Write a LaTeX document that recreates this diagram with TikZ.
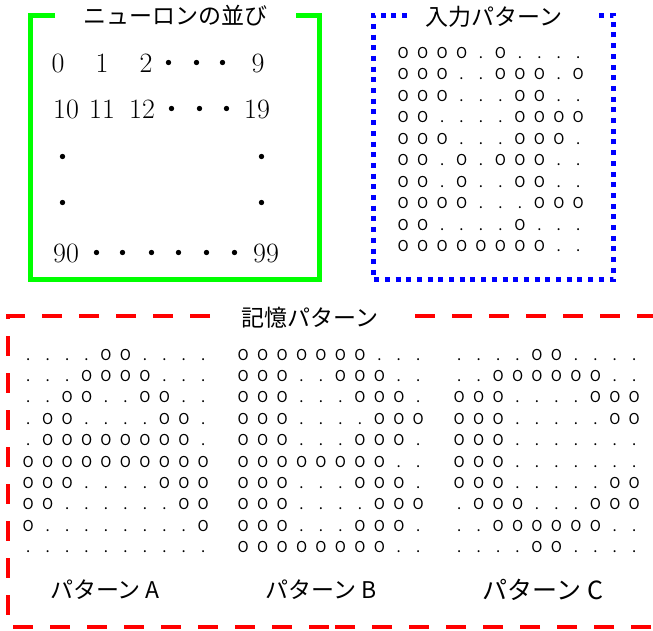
\documentclass[tikz,border=0pt]{standalone}
\usepackage{fontspec}
\newfontfamily\jp{Noto Sans CJK JP}
\newlength{\cw}
\setlength{\cw}{19.45pt}
\def\prow#1{\prowi#1\relax}
\def\prowi#1{\ifx#1\relax\else\makebox[\cw]{\ifx#1x.\else#1\fi}\expandafter\prowi\fi}
\tikzset{
  titletext/.style={inner sep=0pt, font=\jp\fontsize{23}{23}\selectfont},
  labeltext/.style={inner sep=0pt, font=\jp\fontsize{23}{23}\selectfont},
  num/.style={inner sep=0pt, anchor=base, font=\fontsize{28}{28}\selectfont},
  mdot/.style={inner sep=0pt, anchor=base, font=\jp\fontsize{25}{25}\selectfont},
  prowbox/.style={inner sep=0pt, anchor=base west, font=\jp\fontsize{15}{15}\selectfont},
  greenbox/.style={draw=green, line width=5pt},
  bluebox/.style={draw=blue, line width=5pt, dash pattern=on 5pt off 5.7pt},
  redbox/.style={draw=red, line width=4.5pt, dash pattern=on 20pt off 17pt},
}
\begin{document}
\begin{tikzpicture}[x=1pt,y=-1pt]
\useasboundingbox (0,0) rectangle (653,630);
% green box
\draw[greenbox] (55,15) -- (30.5,15) -- (30.5,279) -- (319.5,279) -- (319.5,15) -- (296,15);
\node[titletext] (gtitle) at (175.5,16) {ニューロンの並び};
\node[num] (n0) at (58,72) {0};
\node[num] (n1) at (102,72) {1};
\node[num] (n2) at (146,72) {2};
\node[mdot] (d1) at (169,72) {・};
\node[mdot] (d2) at (197,72) {・};
\node[mdot] (d3) at (223,72) {・};
\node[num] (n9) at (258,72) {9};
\node[num] (n10) at (66,118) {10};
\node[num] (n11) at (102,118) {11};
\node[num] (n12) at (142,118) {12};
\node[mdot] (d4) at (172,118) {・};
\node[mdot] (d5) at (200,118) {・};
\node[mdot] (d6) at (227,118) {・};
\node[num] (n19) at (257,118) {19};
\node[mdot] (d7) at (63,166) {・};
\node[mdot] (d8) at (262,166) {・};
\node[mdot] (d9) at (63,212) {・};
\node[mdot] (d10) at (262,212) {・};
\node[num] (n90) at (66,262) {90};
\foreach \x [count=\k] in {97,123,152,179,207,235}
  \node[mdot] (e\k) at (\x,262) {・};
\node[num] (n99) at (266,262) {99};
% blue box
\draw[bluebox] (407,15) -- (373,15) -- (373,279.5) -- (613.5,279.5) -- (613.5,15) -- (599,15);
\node[titletext] (btitle) at (494,17) {入力パターン};
\foreach \r [count=\i] in {OOOOxOxxxx,OOOxxOOOxO,OOOxxxOOxx,OOxxxxOOOO,OOOxxxOOOx,OOxOxOOOxx,OOxOxxOOxx,OOOOxxxOOO,OOxxxxOxxx,OOOOOOOOxx}
  \node[prowbox] (in\i) at (393.3,{58+(\i-1)*21.55}) {\expandafter\prow\expandafter{\r}};
% red box
\draw[redbox] (210,316) -- (8,316) -- (8,627) -- (331,627);
\draw[redbox] (415,316) -- (655,316) -- (655,627) -- (331,627);
\node[titletext] (rtitle) at (310,318) {記憶パターン};
\foreach \r [count=\i] in {xxxxOOxxxx,xxxOOOOxxx,xxOOxxOOxx,xOOxxxxOOx,xOOOOOOOOx,OOOOOOOOOO,OOOxxxxOOO,OOxxxxxxOO,OxxxxxxxxO,xxxxxxxxxx}
  \node[prowbox] (pa\i) at (18.3,{360+(\i-1)*21.4}) {\expandafter\prow\expandafter{\r}};
\foreach \r [count=\i] in {OOOOOOOxxx,OOOxxOOOxx,OOOxxxOOOx,OOOxxxxOOO,OOOxxxOOOx,OOOOOOOOxx,OOOxxxOOOx,OOOxxxxOOO,OOOxxxOOOx,OOOOOOOOxx}
  \node[prowbox] (pb\i) at (233.3,{360+(\i-1)*21.4}) {\expandafter\prow\expandafter{\r}};
\foreach \r [count=\i] in {xxxxOOxxxx,xxOOOOOOxx,OOOxxxxOOO,OOOxxxxxOO,OOOxxxxxxx,OOOxxxxxxx,OOOxxxxxOO,xOOOxxxOOO,xxOOOOOOxx,xxxxOOxxxx}
  \node[prowbox] (pc\i) at (449.3,{360+(\i-1)*21.4}) {\expandafter\prow\expandafter{\r}};
\node[labeltext] (la) at (105,590) {パターン A};
\node[labeltext] (lb) at (321,590) {パターン B};
\node[labeltext, font=\jp\fontsize{25}{25}\selectfont] (lc) at (543,590) {パターン C};
\end{tikzpicture}
\end{document}
